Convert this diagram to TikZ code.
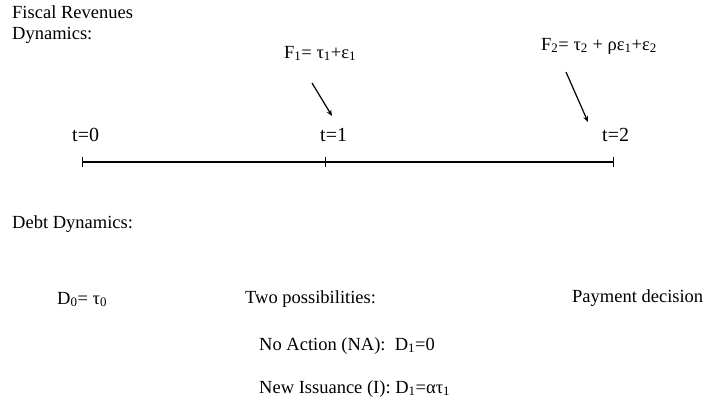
\documentclass[tikz,border=0pt]{standalone}
\usepackage{fontspec}
\setmainfont{Liberation Serif}
\usetikzlibrary{arrows.meta,positioning}
\newcommand{\sbs}[1]{\textsubscript{#1}}
\tikzset{
  heading/.style={anchor=base west, inner sep=0pt, align=left,
                  font=\fontsize{18.5}{21}\selectfont},
  formula/.style={anchor=base west, inner sep=0pt,
                  font=\fontsize{18.5}{21}\selectfont},
  tmark/.style={anchor=base west, inner sep=0pt,
                font=\fontsize{20}{22}\selectfont},
  timeline/.style={line width=1.8pt},
  tick/.style={line width=0.8pt},
  arrow/.style={-{Stealth[length=6pt,width=5pt]}, line width=1.2pt}
}
\begin{document}
\begin{tikzpicture}[x=1pt,y=-1pt]
\useasboundingbox (0,0) rectangle (705,405);
% fiscal revenues
\node[heading] (fiscal) at (12,18.3) {Fiscal Revenues};
\node[heading] (fiscal2) at (12,39.3) {Dynamics:};
\node[formula] (f1) at (284,58.3) {F\sbs{1}= τ\sbs{1}+ε\sbs{1}};
\node[formula] (f2) at (541,50) {F\sbs{2}= τ\sbs{2} + ρε\sbs{1}+ε\sbs{2}};
\node[tmark] (t0) at (72,141.7) {t=0};
\node[tmark] (t1) at (320,141.7) {t=1};
\node[tmark] (t2) at (602,141.7) {t=2};
\coordinate (a1s) at (312,83);
\coordinate (a1e) at (332,116);
\coordinate (a2s) at (566,72);
\coordinate (a2e) at (588,122);
\draw[arrow] (a1s) -- (a1e);
\draw[arrow] (a2s) -- (a2e);
% time line
\coordinate (l0) at (82.3,161.7);
\coordinate (l1) at (325.7,161.7);
\coordinate (l2) at (613.3,161.7);
\draw[timeline] (l0) -- (l2);
\foreach \p in {l0,l1,l2}
  \draw[tick] ([yshift=5pt]\p) -- ([yshift=-5pt]\p);
% debt
\node[heading] (debt) at (12,228.3) {Debt Dynamics:};
\node[formula] (d0) at (57,304) {D\sbs{0}= τ\sbs{0}};
\node[formula] (two) at (245,303.3) {Two possibilities:};
\node[formula] (pay) at (572,302) {Payment decision};
\node[formula] (na) at (259,350) {No Action (NA):\ \ D\sbs{1}=0};
\node[formula] (ni) at (259,393) {New Issuance (I): D\sbs{1}=ατ\sbs{1}};
\end{tikzpicture}
\end{document}
